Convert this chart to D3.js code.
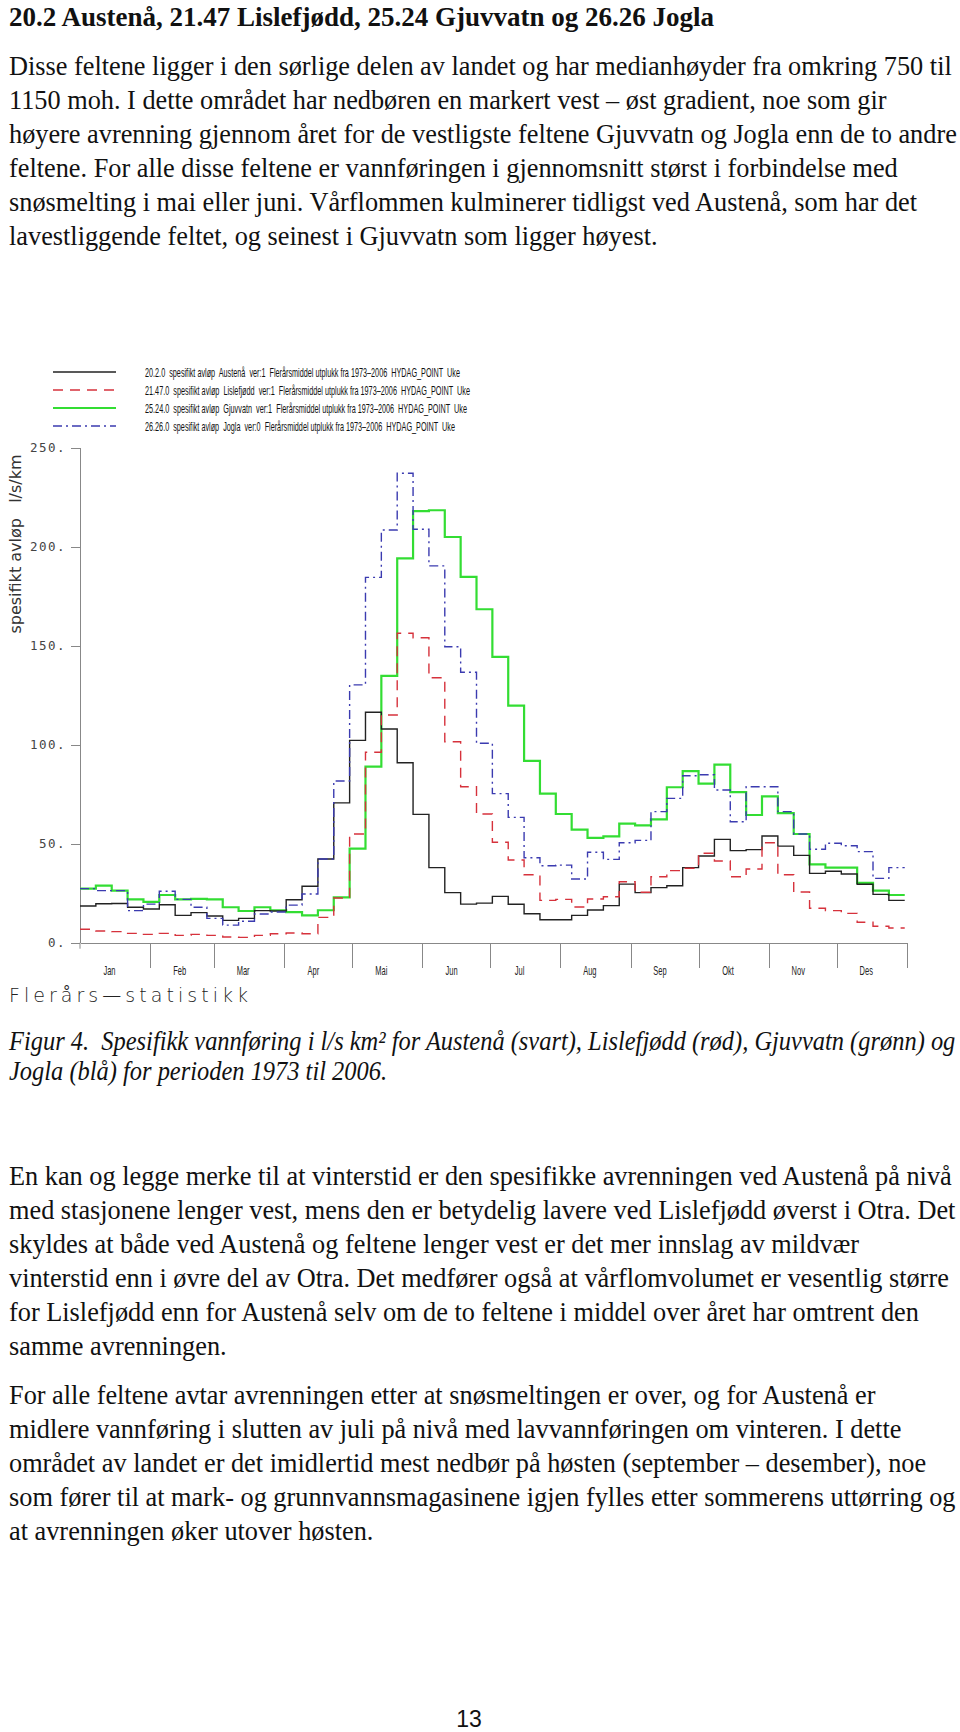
<!DOCTYPE html>
<html>
<head>
<meta charset="utf-8">
<script src="https://cdn.jsdelivr.net/npm/d3@7"></script>
<style>
  body { margin: 0; background: #fff; }
  svg { display: block; }
  .body-text { font-family: "Liberation Serif", "Times New Roman", serif; font-size: 26.3px; fill: #111; white-space: pre; }
  .axis path, .axis line { stroke: #888; stroke-width: 1; shape-rendering: crispEdges; }
  .axis text { font-family: "DejaVu Sans Mono", monospace; font-size: 12.5px; fill: #444; letter-spacing: 1.5px; }
</style>
</head>
<body>
<div class="page"></div>
<script>
// ---- chart data (weekly means, l/s/km2) ----
var weeks = d3.range(1, 53);
var austena = [18.5, 19.7, 19.8, 17.9, 17.0, 19.2, 13.8, 15.2, 13.5, 11.3, 12.3, 16.2, 16.0, 21.7, 28.5, 42.3, 70.6, 102.2, 116.4, 107.9, 90.9, 64.8, 37.9, 25.3, 19.5, 20.0, 23.4, 19.4, 14.6, 11.6, 11.6, 13.8, 16.5, 18.7, 29.6, 25.3, 27.8, 28.8, 37.9, 43.8, 52.2, 46.5, 47.0, 53.9, 48.8, 44.1, 35.0, 36.1, 34.7, 29.5, 24.4, 21.4];
var lislefjodd = [6.8, 5.9, 5.6, 4.7, 4.2, 4.7, 3.7, 4.2, 3.7, 2.9, 2.7, 3.7, 4.5, 4.9, 4.5, 12.8, 22.6, 54.9, 96.2, 115.0, 156.3, 154.0, 133.8, 101.5, 78.8, 65.0, 50.7, 41.8, 34.3, 21.4, 21.9, 18.0, 22.1, 23.2, 30.8, 25.5, 33.3, 36.4, 37.6, 45.2, 41.3, 33.3, 37.2, 50.5, 34.3, 25.6, 17.4, 16.2, 14.8, 10.3, 8.3, 7.4];
var gjuvvatn = [27.3, 28.8, 26.3, 21.9, 20.6, 24.1, 21.9, 22.1, 21.9, 17.9, 16.0, 17.9, 16.4, 15.4, 13.8, 16.4, 22.9, 47.5, 88.9, 134.8, 194.1, 218.0, 218.4, 204.9, 184.8, 168.4, 144.4, 119.7, 91.8, 75.3, 65.0, 57.1, 52.9, 53.7, 60.1, 59.3, 62.3, 78.5, 86.7, 80.3, 89.9, 76.0, 64.5, 73.9, 65.4, 54.9, 39.6, 37.9, 37.9, 30.2, 26.3, 24.1];
var jogla = [27.3, 26.3, 26.3, 16.2, 19.5, 26.0, 21.9, 17.9, 12.3, 8.9, 10.8, 14.5, 15.5, 19.0, 24.6, 42.3, 81.7, 130.2, 184.5, 208.4, 237.1, 208.8, 190.3, 149.5, 136.6, 100.7, 75.3, 63.3, 42.9, 38.9, 39.2, 32.2, 45.7, 42.1, 50.5, 51.7, 66.2, 72.9, 84.3, 84.8, 77.1, 61.1, 78.8, 78.8, 66.2, 54.9, 47.2, 50.2, 49.0, 46.0, 32.5, 37.9];

var months = ["Jan", "Feb", "Mar", "Apr", "Mai", "Jun", "Jul", "Aug", "Sep", "Okt", "Nov", "Des"];
var monthDays = [31, 28, 31, 30, 31, 30, 31, 31, 30, 31, 30, 31];
var yTicks = [0, 50, 100, 150, 200, 250];

var legendLabels = [
  "20.2.0  spesifikt avløp  Austenå  ver:1  Flerårsmiddel utplukk fra 1973\u20132006  HYDAG_POINT  Uke",
  "21.47.0  spesifikt avløp  Lislefjødd  ver:1  Flerårsmiddel utplukk fra 1973\u20132006  HYDAG_POINT  Uke",
  "25.24.0  spesifikt avløp  Gjuvvatn  ver:1  Flerårsmiddel utplukk fra 1973\u20132006  HYDAG_POINT  Uke",
  "26.26.0  spesifikt avløp  Jogla  ver:0  Flerårsmiddel utplukk fra 1973\u20132006  HYDAG_POINT  Uke"
];

// ---- page text ----
var heading = "20.2 Austenå, 21.47 Lislefjødd, 25.24 Gjuvvatn og 26.26 Jogla";
var para1 = [
  "Disse feltene ligger i den sørlige delen av landet og har medianhøyder fra omkring 750 til",
  "1150 moh. I dette området har nedbøren en markert vest \u2013 øst gradient, noe som gir",
  "høyere avrenning gjennom året for de vestligste feltene Gjuvvatn og Jogla enn de to andre",
  "feltene. For alle disse feltene er vannføringen i gjennomsnitt størst i forbindelse med",
  "snøsmelting i mai eller juni. Vårflommen kulminerer tidligst ved Austenå, som har det",
  "lavestliggende feltet, og seinest i Gjuvvatn som ligger høyest."
];
var caption = [
  "Figur 4.  Spesifikk vannføring i l/s km² for Austenå (svart), Lislefjødd (rød), Gjuvvatn (grønn) og",
  "Jogla (blå) for perioden 1973 til 2006."
];
var para2 = [
  "En kan og legge merke til at vinterstid er den spesifikke avrenningen ved Austenå på nivå",
  "med stasjonene lenger vest, mens den er betydelig lavere ved Lislefjødd øverst i Otra. Det",
  "skyldes at både ved Austenå og feltene lenger vest er det mer innslag av mildvær",
  "vinterstid enn i øvre del av Otra. Det medfører også at vårflomvolumet er vesentlig større",
  "for Lislefjødd enn for Austenå selv om de to feltene i middel over året har omtrent den",
  "samme avrenningen."
];
var para3 = [
  "For alle feltene avtar avrenningen etter at snøsmeltingen er over, og for Austenå er",
  "midlere vannføring i slutten av juli på nivå med lavvannføringen om vinteren. I dette",
  "området av landet er det imidlertid mest nedbør på høsten (september \u2013 desember), noe",
  "som fører til at mark- og grunnvannsmagasinene igjen fylles etter sommerens uttørring og",
  "at avrenningen øker utover høsten."
];

var svg = d3.select(".page").append("svg")
  .attr("width", 960)
  .attr("height", 1732);

// text blocks
function block(lines, x, y0, step) {
  return svg.append("g").selectAll("text")
    .data(lines)
    .enter()
    .append("text")
    .attr("class", "body-text")
    .attr("x", x)
    .attr("y", function(d, i) { return y0 + i * step; })
    .text(function(d) { return d; });
}

svg.append("text")
  .attr("class", "body-text")
  .attr("x", 9)
  .attr("y", 26)
  .style("font-weight", "bold")
  .style("font-size", "27px")
  .text(heading);

block(para1, 9, 75, 34);
block(para2, 9, 1185, 34);
block(para3, 9, 1404, 34);

// caption is set narrower than the body text
svg.append("g").selectAll("text")
  .data(caption)
  .enter()
  .append("text")
  .attr("class", "body-text")
  .attr("transform", function(d, i) { return "translate(9," + (1050 + i * 30) + ") scale(0.93,1)"; })
  .style("font-style", "italic")
  .text(function(d) { return d; });

// ---- chart ----
var x = d3.scaleLinear().domain([0, 365]).range([80, 907]);
var y = d3.scaleLinear().domain([0, 250]).range([942.7, 447.7]);

var series = [
  {name: "Gjuvvatn", values: gjuvvatn, color: "#33dd33", width: 2.2, dash: null, legendRow: 2},
  {name: "Austenå", values: austena, color: "#222222", width: 1.4, dash: null, legendRow: 0},
  {name: "Lislefjødd", values: lislefjodd, color: "#d6323c", width: 1.4, dash: "10,7", legendRow: 1},
  {name: "Jogla", values: jogla, color: "#3b3bb0", width: 1.4, dash: "9,4,2,4", legendRow: 3}
];

var line = d3.line()
  .x(function(d) { return x(d.day); })
  .y(function(d) { return y(d.v); })
  .curve(d3.curveStepAfter);

function steps(values) {
  var pts = values.map(function(v, i) { return {day: (weeks[i] - 1) * 7, v: v}; });
  pts.push({day: weeks[weeks.length - 1] * 7, v: values[values.length - 1]});
  return pts;
}

//Y Axis
svg.append("g")
  .attr("class", "axis")
  .attr("transform", "translate(80,0)")
  .call(d3.axisLeft(y).tickValues(yTicks).tickSize(9).tickSizeOuter(0).tickPadding(5)
    .tickFormat(function(d) { return d + "."; }));

svg.append("line")
  .attr("x1", 80).attr("x2", 80)
  .attr("y1", y(0)).attr("y2", y(0) + 6)
  .attr("stroke", "#888");

//X Axis (month boundaries)
var monthEnds = Array.from(d3.cumsum(monthDays));
svg.append("g")
  .attr("class", "axis")
  .attr("transform", "translate(0," + y(0) + ")")
  .call(d3.axisBottom(x).tickValues(monthEnds).tickSize(25).tickSizeOuter(0).tickFormat(""));

var monthStarts = [0].concat(monthEnds.slice(0, 11));
svg.append("g").selectAll("text")
  .data(months)
  .enter()
  .append("text")
  .attr("transform", function(d, i) { return "translate(" + x(monthStarts[i] + 13) + ",975) scale(0.6,1)"; })
  .attr("text-anchor", "middle")
  .style("font-family", "Liberation Sans, Arial, sans-serif")
  .style("font-size", "12.5px")
  .style("fill", "#222")
  .text(function(d) { return d; });

//series
svg.append("g").selectAll("path")
  .data(series)
  .enter()
  .append("path")
  .attr("d", function(d) { return line(steps(d.values)); })
  .attr("fill", "none")
  .attr("stroke", function(d) { return d.color; })
  .attr("stroke-width", function(d) { return d.width; })
  .attr("stroke-dasharray", function(d) { return d.dash; });

//Legend
var legendY = [372, 390, 408, 426];
var legendEnd = [460, 470, 467, 455];
var legend = svg.append("g");
series.forEach(function(s) {
  var r = s.legendRow;
  legend.append("line")
    .attr("x1", 53).attr("x2", 116)
    .attr("y1", legendY[r]).attr("y2", legendY[r])
    .attr("stroke", s.color)
    .attr("stroke-width", s.width)
    .attr("stroke-dasharray", s.dash);
  legend.append("text")
    .attr("x", 145)
    .attr("y", legendY[r] + 4.5)
    .attr("textLength", legendEnd[r] - 145)
    .attr("lengthAdjust", "spacingAndGlyphs")
    .style("font-family", "Liberation Sans, Arial, sans-serif")
    .style("font-size", "13px")
    .style("fill", "#111")
    .style("white-space", "pre")
    .text(legendLabels[r]);
});

//Y Axis Title
svg.append("text")
  .attr("transform", "translate(21,544) rotate(-90)")
  .attr("text-anchor", "middle")
  .style("font-family", "DejaVu Sans, sans-serif")
  .style("font-size", "16px")
  .style("fill", "#333")
  .style("white-space", "pre")
  .text("spesifikt avløp   l/s/km");

svg.append("text")
  .attr("x", 9)
  .attr("y", 1002)
  .attr("textLength", 239)
  .style("font-family", "DejaVu Sans, sans-serif")
  .style("font-size", "19px")
  .style("font-weight", "300")
  .style("fill", "#222")
  .text("Flerårs\u2014statistikk");

//page number
svg.append("text")
  .attr("x", 469)
  .attr("y", 1727)
  .attr("text-anchor", "middle")
  .style("font-family", "Liberation Sans, Arial, sans-serif")
  .style("font-size", "23px")
  .style("fill", "#111")
  .text("13");
</script>
</body>
</html>
